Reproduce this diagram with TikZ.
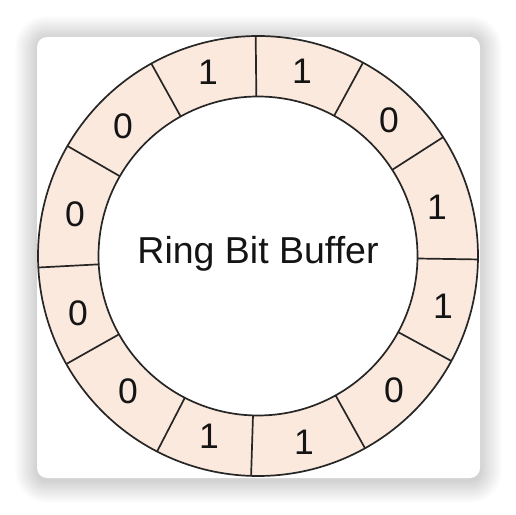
\documentclass[tikz,border=0pt]{standalone}
\usepackage{fontspec}
\setmainfont{Liberation Sans}
\usetikzlibrary{calc}
\definecolor{ringfill}{HTML}{FBE9DD}
\definecolor{ringline}{HTML}{262626}
\tikzset{
  ringstroke/.style={draw=ringline, line width=1.7pt},
  bit/.style={inner sep=0pt, text=black!92, font=\fontsize{35.5}{40}\selectfont},
  titletext/.style={inner sep=0pt, text=black!92, font=\fontsize{37.5}{42}\selectfont}
}
\begin{document}
\begin{tikzpicture}[x=1pt,y=1pt]
\useasboundingbox (0,0) rectangle (516,514);
\fill[white] (0,0) rectangle (516,514);
% soft shadow
\foreach \i in {1,...,22}{
  \pgfmathsetmacro\rc{10+\i}
  \fill[black, opacity=0.007, rounded corners=\rc pt] ({37-\i},{33-\i}) rectangle ({480+\i},{476+\i});
}
% card
\fill[white, rounded corners=10pt] (37,36) rectangle (480,477);
\coordinate (c) at (258,258);
% ring
\fill[ringfill, even odd rule] (c) circle[radius=220] (c) circle[radius=159.5];
\draw[ringstroke] (c) circle[radius=220];
\draw[ringstroke] (c) circle[radius=159.5];
\foreach \a in {359.1,32.7,61.5,90.6,119,150,183,209.4,242.7,268.2,299.1,331.5}
  \draw[ringstroke] ($(c)+(\a:159.5)$) -- ($(c)+(\a:220)$);
% labels
\node[bit] (b1)  at (302,443) {1};
\node[bit] (b2)  at (389,394) {0};
\node[bit] (b3)  at (437,307) {1};
\node[bit] (b4)  at (443,208) {1};
\node[bit] (b5)  at (394,124) {0};
\node[bit] (b6)  at (304,72)  {1};
\node[bit] (b7)  at (209,78)  {1};
\node[bit] (b8)  at (128,123) {0};
\node[bit] (b9)  at (78,201)  {0};
\node[bit] (b10) at (75,300)  {0};
\node[bit] (b11) at (123,388) {0};
\node[bit] (b12) at (208,442) {1};
\node[titletext] (title) at (258,260.5) {Ring Bit Buffer};
\end{tikzpicture}
\end{document}
